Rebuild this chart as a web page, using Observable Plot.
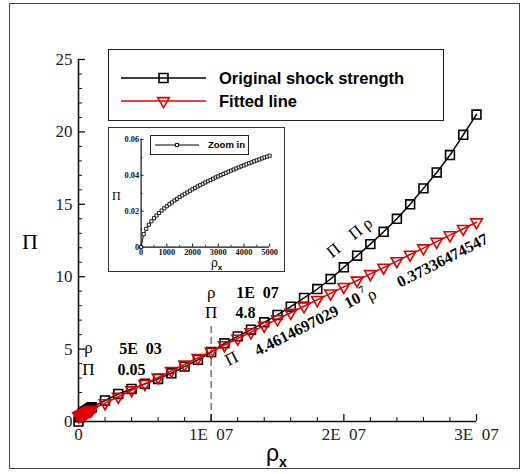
<!DOCTYPE html>
<html><head><meta charset="utf-8">
<script src="https://cdn.jsdelivr.net/npm/d3@7"></script>
<script src="https://cdn.jsdelivr.net/npm/@observablehq/plot@0.6"></script>
<style>
body{margin:0;background:#fff;}
#wrap{position:relative;width:528px;height:474px;overflow:hidden;background:#fff;}
#border{position:absolute;left:9px;top:3px;width:511px;height:466px;border:1px solid #444;box-sizing:border-box;}
#main{position:absolute;left:0;top:0;}
#inset{position:absolute;left:108px;top:127px;width:177px;height:145px;border:1px solid #333;box-sizing:border-box;background:#fff;overflow:hidden;}
#inset svg{position:absolute;left:-1px;top:-1px;}
#legend{position:absolute;left:108px;top:49px;width:336px;height:72px;border:1px solid #222;box-sizing:border-box;background:#fff;}
#ilegend{position:absolute;left:150px;top:135px;width:99px;height:20px;border:1px solid #222;box-sizing:border-box;background:#fff;}
.lab{position:absolute;white-space:pre;line-height:1;}
svg text{font-family:'Liberation Serif';}
</style></head><body>
<div id="wrap">
<div id="border"></div>
<div id="main"></div>
<div id="legend"></div>
<div id="inset"></div>
<div id="ilegend"></div>
<div class="lab" style="left:22px;top:229px;font:22px 'Liberation Serif';">Π</div>
<div class="lab" style="left:266px;top:440px;font:23px 'Liberation Sans';">ρ<span style="font-weight:bold;font-size:14px;position:relative;top:6px;">x</span></div>
<div class="lab" style="left:112px;top:189px;font:12px 'Liberation Serif';">Π</div>
<div class="lab" style="left:211px;top:256px;font:12px 'Liberation Sans';">ρ<span style="font-weight:bold;font-size:8px;position:relative;top:3px;">x</span></div>
</div>
<script>
// ---- main series ----
const rho = [0, 1e5, 2e5, 3e5, 4e5, 5e5, 6e5, 7e5, 8e5, 9e5, 1e6,
  2e6, 3e6, 4e6, 5e6, 6e6, 7e6, 8e6, 9e6, 10e6, 11e6, 12e6, 13e6, 14e6, 15e6,
  16e6, 17e6, 18e6, 19e6, 20e6, 21e6, 22e6, 23e6, 24e6, 25e6, 26e6, 27e6, 28e6, 29e6, 30e6];
const piOriginal = [0, 0.30, 0.43, 0.53, 0.61, 0.68, 0.75, 0.81, 0.87, 0.93, 0.98,
  1.45, 1.90, 2.25, 2.60, 2.94, 3.33, 3.79, 4.26, 4.80, 5.40, 5.88, 6.34, 6.85, 7.36,
  7.93, 8.53, 9.15, 9.84, 10.65, 11.45, 12.25, 13.1, 14.0, 15.0, 16.1, 17.2, 18.4, 19.8, 21.2];
const piFitted = [0.37, 0.42, 0.46, 0.51, 0.55, 0.60, 0.64, 0.69, 0.73, 0.78, 0.82,
  1.27, 1.71, 2.16, 2.60, 3.05, 3.50, 3.94, 4.39, 4.83, 5.28, 5.73, 6.17, 6.62, 7.07,
  7.51, 7.96, 8.40, 8.85, 9.30, 9.74, 10.19, 10.63, 11.08, 11.53, 11.97, 12.42, 12.87, 13.31, 13.76];
const seriesNames = ["Original shock strength", "Fitted line"];

// ---- inset series ----
const rhoInset = [0,100,200,300,400,500,600,700,800,900,1000,1100,1200,1300,1400,1500,1600,1700,1800,1900,
  2000,2100,2200,2300,2400,2500,2600,2700,2800,2900,3000,3100,3200,3300,3400,3500,3600,3700,3800,3900,
  4000,4100,4200,4300,4400,4500,4600,4700,4800,4900,5000];
const piInset = [0,0.0072,0.0102,0.0125,0.0144,0.0161,0.0176,0.0190,0.0204,0.0216,0.0228,0.0239,0.0249,0.0260,0.0269,
  0.0279,0.0288,0.0297,0.0305,0.0314,0.0322,0.0330,0.0338,0.0345,0.0353,0.0360,0.0367,0.0374,0.0381,0.0388,
  0.0394,0.0401,0.0407,0.0414,0.0420,0.0426,0.0432,0.0438,0.0444,0.0450,0.0455,0.0461,0.0467,0.0472,0.0478,
  0.0483,0.0488,0.0494,0.0499,0.0504,0.0509];
const insetLegend = "Zoom in";

// ---- ticks ----
const xMajor = [0, 1e7, 2e7, 3e7];
const xMajorLabels = ["0", "1E\u00a0\u00a007", "2E\u00a0\u00a007", "3E\u00a0\u00a007"];
const xMinor = [2e6,4e6,6e6,8e6,12e6,14e6,16e6,18e6,22e6,24e6,26e6,28e6];
const yMajor = [0,5,10,15,20,25];
const yMinor = [1,2,3,4,6,7,8,9,11,12,13,14,16,17,18,19,21,22,23,24];
const ixMajor = [0,1000,2000,3000,4000,5000];
const ixMinor = [500,1500,2500,3500,4500];
const iyMajor = [0,0.02,0.04,0.06];
const iyLabels = ["0","0.02","0.04","0.06"];
const iyMinor = [0.01,0.03,0.05];

// ---- annotations ----
const refLine = [{x: 1e7, y1: 0, y2: 6.6}];
const labelsPlain = [
  {x: 0.75e6, y: 5.11, t: "ρ"}, {x: 0.75e6, y: 3.59, t: "Π"},
  {x: 10.0e6, y: 8.91, t: "ρ"}, {x: 10.0e6, y: 7.53, t: "Π"}];
const labelsBold = [
  {x: 4.67e6, y: 5.04, t: "5E\u00a0\u00a003"}, {x: 3.99e6, y: 3.59, t: "0.05"},
  {x: 13.49e6, y: 8.91, t: "1E\u00a0\u00a007"}, {x: 12.59e6, y: 7.53, t: "4.8"}];
const eqPlain = [{x: 11.53e6, y: 4.35, t: "Π"}, {x: 22.08e6, y: 8.77, t: "ρ"}];
const eqBold = [{x: 16.43e6, y: 6.28, t: "4.4614697029"}, {x: 20.65e6, y: 8.36, t: "10"},
  {x: 27.44e6, y: 11.12, t: "0.37336474547"}];
const eqSup = [{x: 21.33e6, y: 9.12, t: "7"}];
const curveLabel = [{x: 19.22e6, y: 11.81, t: "Π"}, {x: 21.26e6, y: 13.33, t: "Π ρ"}];

const main = rho.map((r, i) => ({rho: r, orig: piOriginal[i], fit: piFitted[i]}));
const inset = rhoInset.map((r, i) => ({rho: r, pi: piInset[i]}));

const serif = "Liberation Serif";
const txt = (data, o) => Plot.text(data, {x: "x", y: "y", text: "t", fontFamily: serif, fill: "#000", ...o});

const chart = Plot.plot({
  width: 528, height: 474,
  marginLeft: 78, marginRight: 52, marginTop: 59, marginBottom: 53,
  x: {domain: [0, 3e7]}, y: {domain: [0, 25]},
  style: {background: "transparent", fontFamily: serif, fontSize: "16px", color: "#111", overflow: "visible"},
  marks: [
    Plot.ruleX(refLine, {x: "x", y1: "y1", y2: "y2", stroke: "#777", strokeWidth: 1.5, strokeDasharray: "7,4"}),
    Plot.tickY(yMajor, {y: d => d, insetRight: 391, stroke: "#111", strokeWidth: 1.3}),
    Plot.tickY(yMinor, {y: d => d, insetRight: 394, stroke: "#111", strokeWidth: 1}),
    Plot.tickX(xMajor, {x: d => d, insetTop: 355, stroke: "#111", strokeWidth: 1.3}),
    Plot.tickX(xMinor, {x: d => d, insetTop: 358, stroke: "#111", strokeWidth: 1}),
    Plot.ruleX([0], {stroke: "#111", strokeWidth: 1.6}),
    Plot.ruleY([0], {stroke: "#111", strokeWidth: 1.6}),
    Plot.axisY({ticks: yMajor, tickSize: 0, tickPadding: 6, label: null, fontSize: 17, fontFamily: serif, fill: "#222"}),
    Plot.axisX({ticks: xMajor, tickSize: 0, tickPadding: 6, label: null, fontSize: 17, fontFamily: serif, fill: "#222",
      tickFormat: d => xMajorLabels[xMajor.indexOf(d)]}),
    Plot.line(main, {x: "rho", y: "orig", stroke: "#000", strokeWidth: 1.5}),
    Plot.dot(main, {x: "rho", y: "orig", symbol: "square", r: 5, stroke: "#000", strokeWidth: 1.6, fill: "none"}),
    Plot.line(main, {x: "rho", y: "fit", stroke: "#e00000", strokeWidth: 1.5}),
    Plot.dot(main, {x: "rho", y: "fit", symbol: "triangle", r: 4.3, rotate: 180, stroke: "#e00000", strokeWidth: 1.6, fill: "none"}),
    txt(labelsPlain, {fontSize: 17}),
    txt(labelsBold, {fontSize: 16, fontWeight: "bold"}),
    txt(eqPlain, {fontSize: 17, rotate: -27}),
    txt(eqBold, {fontSize: 16, fontWeight: "bold", rotate: -27}),
    txt(eqSup, {fontSize: 10, fontWeight: "bold", rotate: -27}),
    txt(curveLabel, {fontSize: 17, rotate: -38})
  ]
});
document.getElementById("main").appendChild(chart);

const ichart = Plot.plot({
  width: 177, height: 145,
  marginLeft: 33, marginRight: 14, marginTop: 12, marginBottom: 24,
  x: {domain: [0, 5000]}, y: {domain: [0, 0.06]},
  style: {background: "transparent", fontFamily: serif, fontSize: "8px", color: "#111", overflow: "visible"},
  marks: [
    Plot.tickY(iyMajor, {y: d => d, insetRight: 127, stroke: "#111"}),
    Plot.tickY(iyMinor, {y: d => d, insetRight: 128, stroke: "#111", strokeWidth: 0.8}),
    Plot.tickX(ixMajor, {x: d => d, insetTop: 106, stroke: "#111"}),
    Plot.tickX(ixMinor, {x: d => d, insetTop: 107, stroke: "#111", strokeWidth: 0.8}),
    Plot.ruleX([0], {stroke: "#111", strokeWidth: 1.2}),
    Plot.ruleY([0], {stroke: "#111", strokeWidth: 1.2}),
    Plot.axisY({ticks: iyMajor, tickSize: 0, tickPadding: 2, label: null, fontSize: 8.5, fontWeight: "bold", fontFamily: serif,
      tickFormat: d => iyLabels[iyMajor.indexOf(d)]}),
    Plot.axisX({ticks: ixMajor, tickSize: 0, tickPadding: 2, label: null, fontSize: 8.5, fontWeight: "bold", fontFamily: serif,
      tickFormat: d => String(d)}),
    Plot.line(inset, {x: "rho", y: "pi", stroke: "#000", strokeWidth: 1}),
    Plot.dot(inset, {x: "rho", y: "pi", symbol: "square", r: 1.8, stroke: "#000", strokeWidth: 0.9, fill: "#fff"})
  ]
});
document.getElementById("inset").appendChild(ichart);

// ---- legends ----
function legendSvg(w, h, items) {
  const svg = d3.create("svg").attr("width", w).attr("height", h).style("position", "absolute").style("left", 0).style("top", 0);
  for (const it of items) {
    svg.append("line").attr("x1", it.x1).attr("x2", it.x2).attr("y1", it.y).attr("y2", it.y)
      .attr("stroke", it.color).attr("stroke-width", it.sw);
    svg.append("path").attr("d", d3.symbol(it.symbol, it.size)())
      .attr("transform", `translate(${(it.x1 + it.x2) / 2},${it.y}) rotate(${it.rot || 0})`)
      .attr("fill", it.fill).attr("stroke", it.color).attr("stroke-width", it.sw);
    svg.append("text").attr("x", it.tx).attr("y", it.y).attr("dy", "0.35em")
      .style("font-family", "'Liberation Sans'").style("font-weight", "700").style("font-size", it.fs + "px")
      .attr("fill", "#000").text(it.label);
  }
  return svg.node();
}
document.getElementById("legend").appendChild(legendSvg(336, 72, [
  {x1: 12, x2: 97, y: 28, color: "#000", sw: 1.6, symbol: d3.symbolSquare, size: 80, fill: "none", tx: 110, fs: 16.5, label: seriesNames[0]},
  {x1: 12, x2: 97, y: 51, color: "#e00000", sw: 1.6, symbol: d3.symbolTriangle, size: 58, rot: 180, fill: "none", tx: 110, fs: 16.5, label: seriesNames[1]}
]));
document.getElementById("ilegend").appendChild(legendSvg(99, 20, [
  {x1: 4, x2: 48, y: 9, color: "#000", sw: 1, symbol: d3.symbolSquare, size: 10, fill: "#fff", tx: 57, fs: 9.5, label: insetLegend}
]));
</script>
</body></html>
